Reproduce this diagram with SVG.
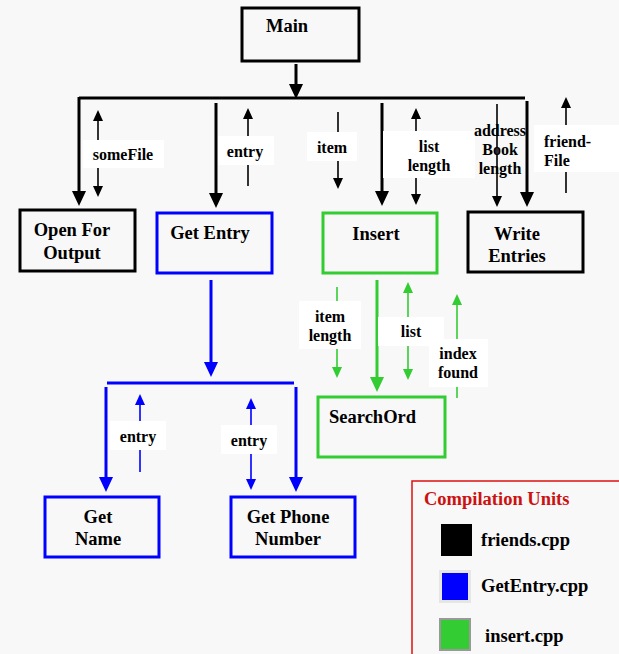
<svg xmlns="http://www.w3.org/2000/svg" width="619" height="654" viewBox="0 0 619 654">
<style>
text{font-family:"Liberation Serif","Times New Roman",serif;font-weight:bold;fill:#000}
.n{font-size:18.5px;text-anchor:middle}
.l{font-size:16px;text-anchor:middle}
.box{fill:none;stroke-width:3}
.k{stroke:#000}.b{stroke:#0000ff}.g{stroke:#33cc33}
.tk{stroke-width:3;fill:none}
.tn{stroke-width:1.6;fill:none}
.lb{fill:#ffffff;stroke:none}
</style>
<defs>
<marker id="hk" markerWidth="15" markerHeight="14" refX="11" refY="7" orient="auto-start-reverse" markerUnits="userSpaceOnUse"><path d="M0,0 L15,7 L0,14z" fill="#000"/></marker>
<marker id="nk" markerWidth="11" markerHeight="10" refX="8" refY="5" orient="auto-start-reverse" markerUnits="userSpaceOnUse"><path d="M0,0 L11,5 L0,10z" fill="#000"/></marker>
<marker id="hb" markerWidth="15" markerHeight="14" refX="11" refY="7" orient="auto-start-reverse" markerUnits="userSpaceOnUse"><path d="M0,0 L15,7 L0,14z" fill="#0000ff"/></marker>
<marker id="nb" markerWidth="11" markerHeight="10" refX="8" refY="5" orient="auto-start-reverse" markerUnits="userSpaceOnUse"><path d="M0,0 L11,5 L0,10z" fill="#0000ff"/></marker>
<marker id="hg" markerWidth="15" markerHeight="14" refX="11" refY="7" orient="auto-start-reverse" markerUnits="userSpaceOnUse"><path d="M0,0 L15,7 L0,14z" fill="#33cc33"/></marker>
<marker id="ng" markerWidth="11" markerHeight="10" refX="8" refY="5" orient="auto-start-reverse" markerUnits="userSpaceOnUse"><path d="M0,0 L11,5 L0,10z" fill="#33cc33"/></marker>
</defs>
<rect x="0" y="0" width="619" height="654" fill="#f8f8f8"/>

<g id="connectors">
<path class="tk k" d="M296,64 V95" marker-end="url(#hk)"/>
<path class="tk k" d="M79,98 H525"/>
<path class="tk k" d="M79,97 V202" marker-end="url(#hk)"/>
<path class="tk k" d="M216,103 V204" marker-end="url(#hk)"/>
<path class="tk k" d="M382,103 V202" marker-end="url(#hk)"/>
<path class="tk k" d="M527,101 V203" marker-end="url(#hk)"/>
<path class="tn k" d="M98,113 V194" marker-start="url(#nk)" marker-end="url(#nk)"/>
<path class="tn k" d="M248,186 V111" marker-end="url(#nk)"/>
<path class="tn k" d="M338,112 V186" marker-end="url(#nk)"/>
<path class="tn k" d="M416,111 V202" marker-start="url(#nk)" marker-end="url(#nk)"/>
<path class="tn k" d="M497,104 V204" marker-end="url(#nk)"/>
<path class="tn k" d="M566,193 V100" marker-end="url(#nk)"/>

<path class="tk b" d="M211,280 V373" marker-end="url(#hb)"/>
<path class="tk b" d="M107,383 H294"/>
<path class="tk b" d="M106,387 V488" marker-end="url(#hb)"/>
<path class="tk b" d="M296,387 V488" marker-end="url(#hb)"/>
<path class="tn b" d="M140,472 V397" marker-end="url(#nb)"/>
<path class="tn b" d="M251,401 V487" marker-start="url(#nb)" marker-end="url(#nb)"/>

<path class="tk g" d="M377,280 V388" marker-end="url(#hg)"/>
<path class="tn g" d="M337,287 V375" marker-end="url(#ng)"/>
<path class="tn g" d="M408,285 V377" marker-start="url(#ng)" marker-end="url(#ng)"/>
<path class="tn g" d="M457,398 V297" marker-end="url(#ng)"/>

<rect class="lb" x="83" y="140" width="81" height="28"/>
<text class="l" x="123" y="160">someFile</text>
<rect class="lb" x="218" y="136" width="56" height="29"/>
<text class="l" x="245" y="157">entry</text>
<rect class="lb" x="307" y="132" width="50" height="29"/>
<text class="l" x="332" y="153">item</text>
<rect class="lb" x="383" y="131" width="92" height="47"/>
<text class="l" x="429" y="152">list</text>
<text class="l" x="429" y="171">length</text>
<text class="l" x="500" y="136">address</text>
<text class="l" x="500" y="155">Book</text>
<text class="l" x="500" y="174">length</text>
<rect class="lb" x="534" y="125" width="85" height="47"/>
<text class="l" x="544" y="147" style="text-anchor:start">friend-</text>
<text class="l" x="544" y="166" style="text-anchor:start">File</text>

<rect class="lb" x="110" y="421" width="56" height="29"/>
<text class="l" x="138" y="442">entry</text>
<rect class="lb" x="221" y="425" width="56" height="29"/>
<text class="l" x="249" y="446">entry</text>

<rect class="lb" x="299" y="301" width="62" height="48"/>
<text class="l" x="330" y="322">item</text>
<text class="l" x="330" y="341">length</text>
<rect class="lb" x="378" y="317" width="66" height="29"/>
<text class="l" x="411" y="337">list</text>
<rect class="lb" x="429" y="339" width="59" height="48"/>
<text class="l" x="458" y="359">index</text>
<text class="l" x="458" y="378">found</text>
</g>

<g id="main">
<rect class="box k" x="242" y="8" width="117" height="53"/>
<text class="n" x="287" y="32">Main</text>
</g>
<g id="open-for-output">
<rect class="box k" x="20" y="210" width="115" height="61"/>
<text class="n" x="72" y="236">Open For</text>
<text class="n" x="72" y="259">Output</text>
</g>
<g id="get-entry">
<rect class="box b" x="157" y="213" width="115" height="60"/>
<text class="n" x="210" y="239">Get Entry</text>
</g>
<g id="insert">
<rect class="box g" x="323" y="213" width="114" height="60"/>
<text class="n" x="376" y="240">Insert</text>
</g>
<g id="write-entries">
<rect class="box k" x="468" y="212" width="115" height="60"/>
<text class="n" x="517" y="240">Write</text>
<text class="n" x="517" y="262">Entries</text>
</g>
<g id="get-name">
<rect class="box b" x="45" y="497" width="114" height="60"/>
<text class="n" x="98" y="523">Get</text>
<text class="n" x="98" y="545">Name</text>
</g>
<g id="get-phone-number">
<rect class="box b" x="231" y="497" width="124" height="60"/>
<text class="n" x="288" y="523">Get Phone</text>
<text class="n" x="288" y="545">Number</text>
</g>
<g id="searchord">
<rect class="box g" x="318" y="397" width="127" height="60"/>
<text class="n" x="329" y="423" style="text-anchor:start">SearchOrd</text>
</g>

<g id="legend">
<rect x="412" y="481" width="220" height="190" fill="none" stroke="#dd1111" stroke-width="1.5"/>
<text x="424" y="505" style="font-size:18.5px;fill:#cc1111">Compilation Units</text>
<rect x="441" y="524" width="31" height="32" fill="#000"/>
<text x="481" y="546" style="font-size:18.5px">friends.cpp</text>
<rect x="439" y="570" width="32" height="33" fill="#e6e6e6"/>
<rect x="442" y="573" width="26" height="27" fill="#0000ff"/>
<text x="481" y="592" style="font-size:18.5px">GetEntry.cpp</text>
<rect x="440" y="619" width="30" height="31" fill="#33cc33" stroke="#999" stroke-width="2"/>
<text x="485" y="642" style="font-size:18.5px">insert.cpp</text>
</g>
</svg>
